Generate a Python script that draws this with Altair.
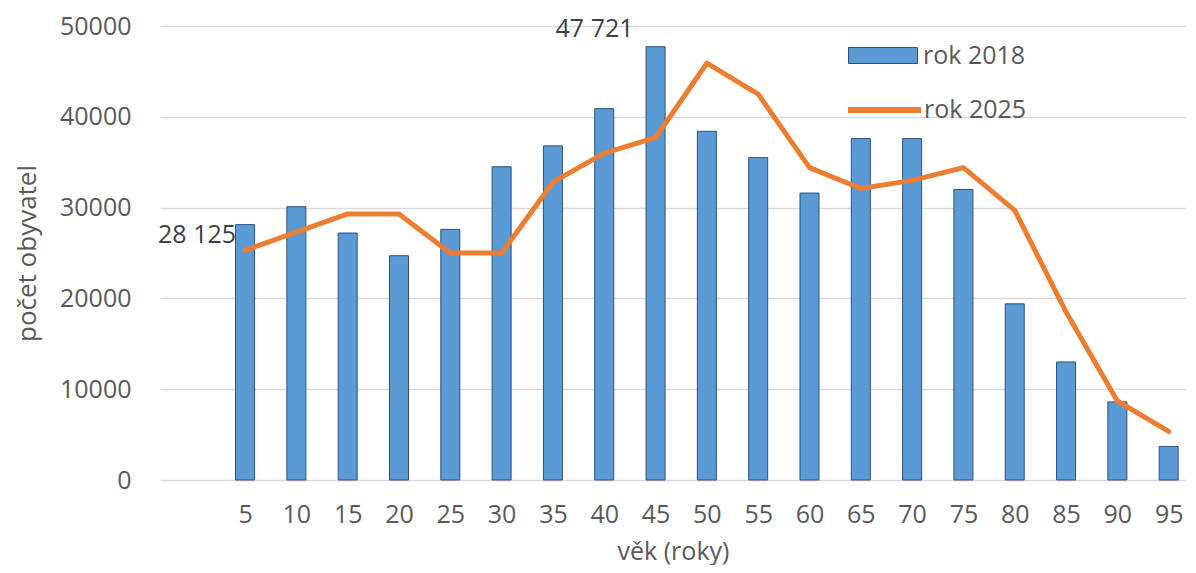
import altair as alt
import pandas as pd

ages = [5, 10, 15, 20, 25, 30, 35, 40, 45, 50, 55, 60, 65, 70, 75, 80, 85, 90, 95]
rok2018 = [28125, 30100, 27200, 24700, 27600, 34500, 36800, 40900, 47721, 38400,
           35500, 31600, 37600, 37600, 32000, 19400, 13000, 8600, 3700]
rok2025 = [25300, 27300, 29300, 29300, 25000, 25000, 32800, 36000, 37700, 45900,
           42500, 34400, 32100, 33000, 34400, 29700, 18500, 8700, 5350]
y_ticks = [0, 10000, 20000, 30000, 40000, 50000]
labelled_ages = [5, 45]

FONT = "Open Sans"
LBL = "#595959"

df = pd.DataFrame({"age": ages, "v2018": rok2018, "v2025": rok2025})
df["s18"] = "rok 2018"
df["s25"] = "rok 2025"
df["lbl"] = [f"{v:,}".replace(",", " ") for v in rok2018]

x = alt.X("age:Q",
          scale=alt.Scale(domain=[-2.8, 96.2], nice=False, zero=False),
          axis=alt.Axis(values=ages, title="věk (roky)", grid=False, domain=False,
                        ticks=False, tickSize=0, labelPadding=34, labelBaseline="middle",
                        labelFont=FONT, labelFontSize=25, labelColor=LBL,
                        titleFont=FONT, titleFontSize=25, titleColor=LBL,
                        titleFontWeight="normal", titleY=71, titleBaseline="middle",
                        labelFlush=False, labelOverlap=False))

y = alt.Y("v2018:Q",
          scale=alt.Scale(domain=[0, 50000], nice=False),
          axis=alt.Axis(values=y_ticks, format="d", title="počet obyvatel",
                        domain=False, ticks=False, tickSize=0, labelPadding=29,
                        gridColor="#D9D9D9", gridWidth=1.3,
                        labelFont=FONT, labelFontSize=25, labelColor=LBL,
                        titleFont=FONT, titleFontSize=26, titleColor=LBL,
                        titleFontWeight="normal", titleX=-133, titleY=227,
                        titleAngle=270, titleAlign="center", titleBaseline="middle"))

base = alt.Chart(df)

bars = base.mark_bar(width=19, stroke="#2F4F7F", strokeWidth=1).encode(
    x=x, y=y,
    fill=alt.Fill("s18:N",
                  scale=alt.Scale(domain=["rok 2018"], range=["#5B9BD5"]),
                  legend=alt.Legend(title=None, orient="none", legendX=688, legendY=-5.5,
                                    symbolType="M-1,-0.232H1V0.232H-1Z", symbolSize=4761,
                                    symbolStrokeColor="#2F4F7F", symbolStrokeWidth=1,
                                    labelOffset=5, padding=0,
                                    labelFont=FONT, labelFontSize=25, labelColor=LBL)),
)

line = base.mark_line(strokeWidth=5, strokeJoin="round", strokeCap="round").encode(
    x="age:Q",
    y=alt.Y("v2025:Q"),
    stroke=alt.Stroke("s25:N",
                      scale=alt.Scale(domain=["rok 2025"], range=["#ED7D31"]),
                      legend=alt.Legend(title=None, orient="none", legendX=685, legendY=44.5,
                                        symbolType="stroke", symbolSize=5329,
                                        symbolStrokeWidth=6, labelOffset=0, padding=0,
                                        labelFont=FONT, labelFontSize=25, labelColor=LBL)),
)

lab5 = base.transform_filter(alt.datum.age == labelled_ages[0]).mark_text(
    align="right", baseline="middle", dx=-9, dy=10,
    font=FONT, fontSize=25, color="#404040").encode(x="age:Q", y="v2018:Q", text="lbl:N")

lab45 = base.transform_filter(alt.datum.age == labelled_ages[1]).mark_text(
    align="center", baseline="middle", dx=-61, dy=-18,
    font=FONT, fontSize=25, color="#404040").encode(x="age:Q", y="v2018:Q", text="lbl:N")

chart = alt.layer(bars, line, lab5, lab45).resolve_legend(fill="independent", stroke="independent").properties(
    width=1026, height=454,
    autosize=alt.AutoSizeParams(type="none"),
    padding={"left": 152, "top": 18, "right": 0, "bottom": 85},
    background="white",
).configure_view(stroke=None)

chart.save("out.html", embed_options={"renderer": "svg", "actions": False})
